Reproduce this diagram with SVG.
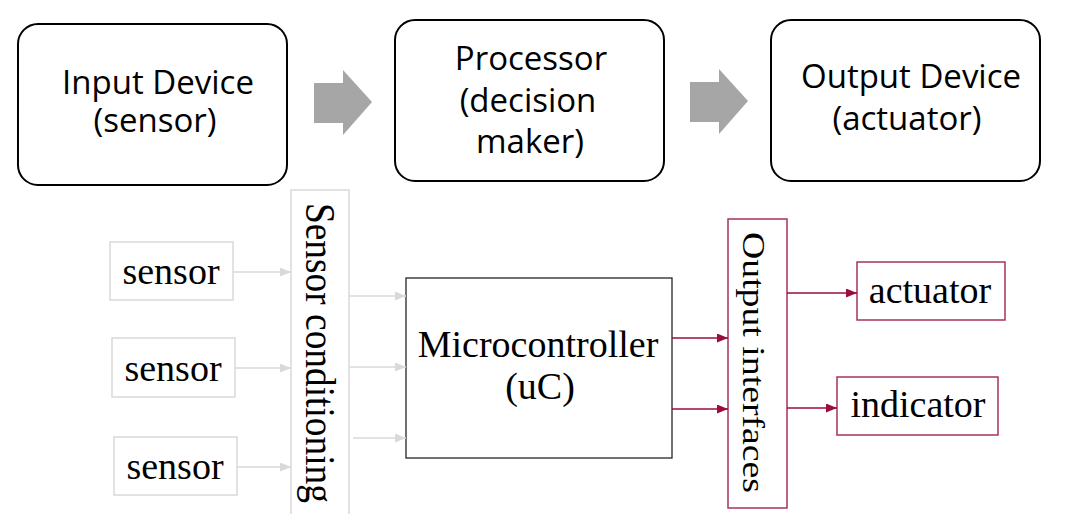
<svg xmlns="http://www.w3.org/2000/svg" width="1082" height="514" viewBox="0 0 1082 514">
<style>
.top{fill:#fff;stroke:#000;stroke-width:2}
.sans{font-family:"Open Sans","Liberation Sans",sans-serif;font-size:33px;fill:#000;text-anchor:middle}
.serif{font-family:"Liberation Serif","Times New Roman",serif;font-size:38px;fill:#000;text-anchor:middle}
.gbox{fill:#fff;stroke:#d9d9d9;stroke-width:1.5}
.rbox{fill:#fff;stroke:#a8325a;stroke-width:1.5}
.garrow{fill:#a6a6a6}
.gline{stroke:#d9d9d9;stroke-width:1.5;fill:none;marker-end:url(#mg)}
.rline{stroke:#9c0c3c;stroke-width:1.5;fill:none;marker-end:url(#mr)}
</style>
<defs>
<marker id="mg" markerUnits="userSpaceOnUse" markerWidth="11" markerHeight="9" refX="11" refY="4.5" orient="auto"><path d="M0,0 L11,4.5 L0,9 z" fill="#d9d9d9"/></marker>
<marker id="mr" markerUnits="userSpaceOnUse" markerWidth="11" markerHeight="9" refX="11" refY="4.5" orient="auto"><path d="M0,0 L11,4.5 L0,9 z" fill="#9c0c3c"/></marker>
</defs>
<rect width="1082" height="514" fill="#fff"/>

<g id="input-device">
<rect class="top" x="18" y="24" width="269" height="161" rx="20"/>
<text class="sans" x="158" y="94">Input Device</text>
<text class="sans" x="155" y="132">(sensor)</text>
</g>
<g id="processor">
<rect class="top" x="395" y="20" width="269" height="161" rx="20"/>
<text class="sans" x="531" y="70">Processor</text>
<text class="sans" x="528" y="112">(decision</text>
<text class="sans" x="530" y="153">maker)</text>
</g>
<g id="output-device">
<rect class="top" x="771" y="20" width="269" height="161" rx="20"/>
<text class="sans" x="911" y="88">Output Device</text>
<text class="sans" x="907" y="130">(actuator)</text>
</g>

<g id="flow-arrows">
<polygon class="garrow" points="314,83 343,83 343,70 372,102 343,135 343,123 314,123"/>
<polygon class="garrow" points="690,82 719,82 719,69 748,101 719,134 719,122 690,122"/>
</g>

<g id="sensor1"><rect class="gbox" x="110" y="242" width="123" height="58"/><text class="serif" x="171" y="284">sensor</text></g>
<g id="sensor2"><rect class="gbox" x="112" y="338" width="123" height="59"/><text class="serif" x="173" y="381">sensor</text></g>
<g id="sensor3"><rect class="gbox" x="114" y="437" width="123" height="58"/><text class="serif" x="175" y="479">sensor</text></g>

<g id="sensor-conditioning">
<rect class="gbox" x="291" y="190" width="58" height="330"/>
<text class="serif" style="text-anchor:start;font-size:39px" textLength="300" lengthAdjust="spacingAndGlyphs" transform="translate(306,203) rotate(90) scale(1,1.06)">Sensor conditioning</text>
</g>

<g id="microcontroller">
<rect x="406" y="278" width="266" height="180" fill="#fff" stroke="#262626" stroke-width="1.3"/>
<text class="serif" x="538" y="357">Microcontroller</text>
<text class="serif" x="540" y="399">(uC)</text>
</g>

<g id="output-interfaces">
<rect class="rbox" x="728" y="219" width="59" height="289"/>
<text class="serif" style="text-anchor:start" textLength="261" lengthAdjust="spacingAndGlyphs" transform="translate(743,232) rotate(90) scale(1,0.85)">Output interfaces</text>
</g>

<g id="actuator"><rect class="rbox" x="857" y="262" width="148" height="58"/><text class="serif" x="930" y="303">actuator</text></g>
<g id="indicator"><rect class="rbox" x="837" y="377" width="161" height="58"/><text class="serif" x="918" y="417">indicator</text></g>

<g id="connectors">
<line class="gline" x1="233" y1="272" x2="291" y2="272"/>
<line class="gline" x1="235" y1="368" x2="291" y2="368"/>
<line class="gline" x1="237" y1="467" x2="291" y2="467"/>
<line class="gline" x1="349" y1="296" x2="406" y2="296"/>
<line class="gline" x1="349" y1="367" x2="406" y2="367"/>
<line class="gline" x1="353" y1="438" x2="406" y2="438"/>
<line class="rline" x1="672" y1="338" x2="728" y2="338"/>
<line class="rline" x1="672" y1="409" x2="728" y2="409"/>
<line class="rline" x1="787" y1="293" x2="857" y2="293"/>
<line class="rline" x1="787" y1="408" x2="837" y2="408"/>
</g>
</svg>
